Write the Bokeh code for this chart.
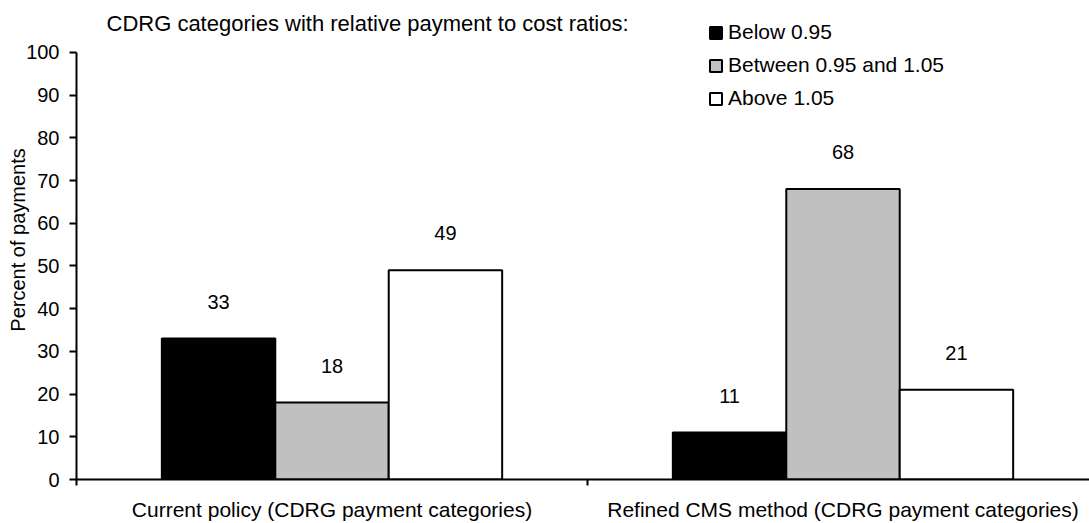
from bokeh.plotting import figure
from bokeh.models import (ColumnDataSource, Range1d, FixedTicker, Legend, LegendItem, Label)
from bokeh.core.properties import value
from bokeh.embed import file_html
from bokeh.resources import INLINE

# ---- data ----
groups = ["Current policy (CDRG payment categories)", "Refined CMS method (CDRG payment categories)"]
series_names = ["Below 0.95", "Between 0.95 and 1.05", "Above 1.05"]
below = [33, 11]
between = [18, 68]
above = [49, 21]
series_values = [below, between, above]
y_ticks = [0, 10, 20, 30, 40, 50, 60, 70, 80, 90, 100]
title_text = "CDRG categories with relative payment to cost ratios:"
y_label = "Percent of payments"

# ---- styles ----
FONT = "Liberation Sans"
fills = ["#000000", "#C0C0C0", "#FFFFFF"]
bar_w = 0.222
offsets = [-bar_w, 0.0, bar_w]

W, H = 1089, 523
left, bottom = 76, 43
axis_top_px = 52            # screen y of value 100
frame_bottom_px = H - bottom  # 480
px_per_unit = (frame_bottom_px - axis_top_px) / 100.0
y_end = frame_bottom_px / px_per_unit   # frame extends to canvas top
frame_w = W - left
cat_px = 511.0

p = figure(width=W, height=H, output_backend="svg", toolbar_location=None,
           x_range=Range1d(0, frame_w / cat_px), y_range=Range1d(0, y_end),
           min_border_left=left, min_border_right=0, min_border_top=0,
           min_border_bottom=bottom)
p.outline_line_color = None
p.xgrid.visible = False
p.ygrid.visible = False
p.background_fill_color = "white"
p.border_fill_color = "white"

centers = [i + 0.5 for i in range(len(groups))]
renderers = []
for k, (name, vals) in enumerate(zip(series_names, series_values)):
    src = ColumnDataSource(dict(x=[c + offsets[k] for c in centers], top=vals,
                                lab=[str(v) for v in vals]))
    r = p.vbar(x="x", top="top", width=bar_w, bottom=0, source=src,
               fill_color=fills[k], line_color="black", line_width=2)
    renderers.append(r)
    p.text(x="x", y="top", text="lab", source=src, text_align="center",
           text_baseline="middle", y_offset=-37, text_font=value(FONT),
           text_font_size="20px", text_color="black")

# x axis: labels at category centres, tick marks at boundaries
xa = p.xaxis[0]
xa.ticker = FixedTicker(ticks=centers, minor_ticks=[0, 1, 2])
xa.major_label_overrides = {c: g for c, g in zip(centers, groups)}
xa.major_tick_out = 0
xa.major_tick_in = 0
xa.minor_tick_out = 6
xa.minor_tick_in = 0
xa.minor_tick_line_width = 2
xa.minor_tick_line_color = "black"
xa.axis_line_width = 2
xa.axis_line_color = "black"
xa.major_label_text_font = FONT
xa.major_label_text_font_size = "21px"
xa.major_label_text_color = "black"
xa.major_label_standoff = 12

ya = p.yaxis[0]
ya.ticker = FixedTicker(ticks=y_ticks)
ya.bounds = (0, 100)
ya.minor_tick_line_color = None
ya.major_tick_out = 7
ya.major_tick_in = 0
ya.major_tick_line_width = 2
ya.major_tick_line_color = "black"
ya.axis_line_width = 2
ya.axis_line_color = "black"
ya.major_label_text_font = FONT
ya.major_label_text_font_size = "20px"
ya.major_label_text_color = "black"
ya.major_label_standoff = 10
ya.axis_label = y_label
ya.axis_label_text_font = FONT
ya.axis_label_text_font_size = "20px"
ya.axis_label_text_font_style = "normal"
ya.axis_label_text_color = "black"
ya.axis_label_standoff = -6

# title, drawn inside the (extended) frame above the value axis
p.add_layout(Label(x=(106 - left) / cat_px, y=(frame_bottom_px - 23) / px_per_unit,
                   text=title_text, text_font=FONT, text_font_size="22px",
                   text_baseline="middle", text_align="left", text_color="black"))

legend = Legend(items=[LegendItem(label=n, renderers=[r]) for n, r in zip(series_names, renderers)],
                location=(708 - left, frame_bottom_px - 16.5 - 99), orientation="vertical",
                glyph_width=15, glyph_height=15, label_height=33, spacing=0,
                padding=0, margin=0, label_standoff=5,
                label_text_font=FONT, label_text_font_size="21px",
                label_text_color="black", border_line_color=None,
                background_fill_alpha=0)
p.add_layout(legend, "center")

open("out.html", "w").write(file_html(p, INLINE))
